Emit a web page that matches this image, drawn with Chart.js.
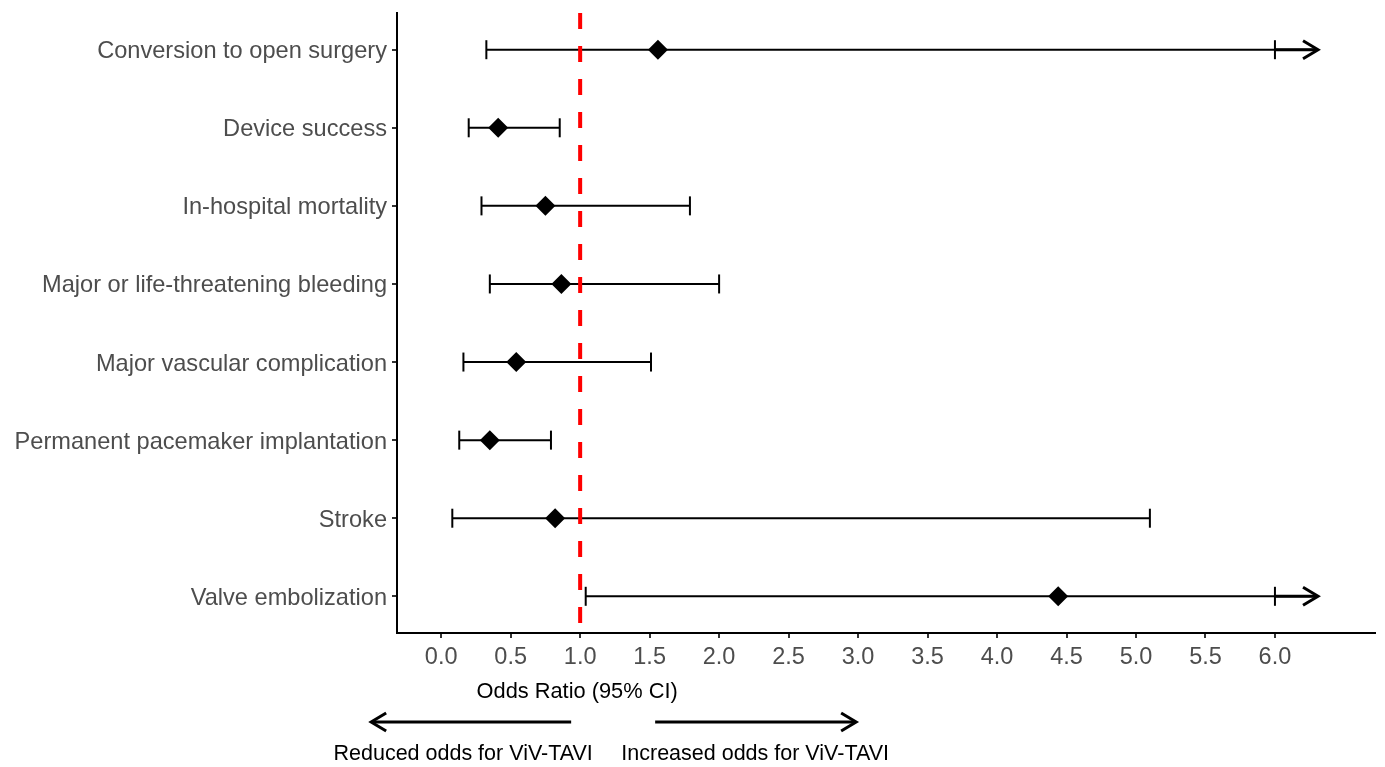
<!DOCTYPE html>
<html>
<head>
<meta charset="utf-8">
<script src="https://cdn.jsdelivr.net/npm/chart.js@4"></script>
<style>
  html, body { margin: 0; padding: 0; background: #fff; }
  #wrap { width: 1385px; height: 767px; }
</style>
</head>
<body>
<div id="wrap"><canvas id="forest"></canvas></div>
<script>
const outcomes = [
  'Conversion to open surgery',
  'Device success',
  'In-hospital mortality',
  'Major or life-threatening bleeding',
  'Major vascular complication',
  'Permanent pacemaker implantation',
  'Stroke',
  'Valve embolization'
];
const oddsRatio = [1.56, 0.41, 0.75, 0.865, 0.54, 0.35, 0.82, 4.44];
const ciLow = [0.325, 0.198, 0.29, 0.35, 0.16, 0.13, 0.08, 1.04];
const ciHigh = [6.31, 0.853, 1.79, 2.0, 1.51, 0.79, 5.10, 6.31];
const truncated = [true, false, false, false, false, false, false, true];
const axisCap = 6.0;
const xTicks = [0, 0.5, 1, 1.5, 2, 2.5, 3, 3.5, 4, 4.5, 5, 5.5, 6];
const refLine = 1.0;

const FONT = '"Liberation Sans", Arial, sans-serif';

const points = oddsRatio.map((v, i) => ({ x: v, y: i }));

function arrowHead(ctx, x, y, dir, len, half) {
  ctx.beginPath();
  ctx.moveTo(x - dir * len, y - half);
  ctx.lineTo(x, y);
  ctx.lineTo(x - dir * len, y + half);
  ctx.stroke();
}

const forestPlugin = {
  id: 'forest',
  beforeDatasetsDraw(chart) {
    const { ctx, scales: { x, y }, chartArea } = chart;
    ctx.save();
    ctx.strokeStyle = '#000';
    ctx.lineCap = 'butt';
    outcomes.forEach((name, i) => {
      const py = y.getPixelForValue(i);
      const x0 = x.getPixelForValue(ciLow[i]);
      const x1 = x.getPixelForValue(ciHigh[i]);
      ctx.lineWidth = 2;
      ctx.beginPath();
      ctx.moveTo(x0, py);
      ctx.lineTo(x1, py);
      ctx.stroke();
      // caps
      const caps = truncated[i] ? [x0, x.getPixelForValue(axisCap)] : [x0, x1];
      caps.forEach(cx => {
        ctx.beginPath();
        ctx.moveTo(cx, py - 9.5);
        ctx.lineTo(cx, py + 9.5);
        ctx.stroke();
      });
      if (truncated[i]) {
        ctx.lineWidth = 3;
        ctx.beginPath();
        ctx.moveTo(x.getPixelForValue(axisCap), py);
        ctx.lineTo(x1 - 2, py);
        ctx.stroke();
        ctx.lineJoin = 'miter';
        arrowHead(ctx, x1, py, 1, 15, 9);
      }
    });
    // reference line
    const rx = x.getPixelForValue(refLine);
    ctx.strokeStyle = '#ff0000';
    ctx.lineWidth = 4;
    ctx.setLineDash([16, 17]);
    ctx.beginPath();
    ctx.moveTo(rx, chartArea.top);
    ctx.lineTo(rx, chartArea.bottom);
    ctx.stroke();
    ctx.restore();
  },
  afterDraw(chart) {
    const { ctx, scales: { x } } = chart;
    const cx = x.getPixelForValue(refLine);
    ctx.save();
    ctx.fillStyle = '#000';
    ctx.textAlign = 'center';
    ctx.textBaseline = 'middle';
    ctx.font = '21.8px ' + FONT;
    ctx.fillText('Odds Ratio (95% CI)', cx - 3, 692);
    // direction arrows
    ctx.strokeStyle = '#000';
    ctx.lineWidth = 3;
    ctx.lineJoin = 'miter';
    const ay = 722;
    ctx.beginPath();
    ctx.moveTo(cx - 9, ay);
    ctx.lineTo(cx - 208, ay);
    ctx.stroke();
    arrowHead(ctx, cx - 209, ay, -1, 15, 9);
    ctx.beginPath();
    ctx.moveTo(cx + 75, ay);
    ctx.lineTo(cx + 275, ay);
    ctx.stroke();
    arrowHead(ctx, cx + 276, ay, 1, 15, 9);
    ctx.font = '21.5px ' + FONT;
    ctx.fillText('Reduced odds for ViV-TAVI', cx - 117, 754);
    ctx.fillText('Increased odds for ViV-TAVI', cx + 175, 754);
    ctx.restore();
  }
};

new Chart(document.getElementById('forest'), {
  type: 'scatter',
  data: {
    datasets: [{
      label: 'Odds ratio',
      data: points,
      pointStyle: 'rectRot',
      pointRadius: 10,
      pointHoverRadius: 10,
      backgroundColor: '#000',
      borderColor: '#000',
      borderWidth: 0
    }]
  },
  options: {
    responsive: true,
    maintainAspectRatio: false,
    animation: false,
    layout: { padding: { top: 13, right: 9, left: 0, bottom: 0 } },
    plugins: {
      legend: { display: false },
      tooltip: { enabled: false }
    },
    scales: {
      x: {
        type: 'linear',
        min: -0.318,
        max: 6.72,
        afterBuildTicks: s => { s.ticks = xTicks.map(v => ({ value: v })); },
        afterFit: s => { s.height = 134; s.paddingLeft = 0; s.paddingRight = 0; },
        grid: { drawOnChartArea: false, drawTicks: true, tickLength: 5, color: '#333', lineWidth: 2 },
        border: { display: true, color: '#000', width: 2 },
        ticks: {
          color: '#4d4d4d',
          padding: 5,
          font: { family: FONT, size: 23.5 },
          callback: v => v.toFixed(1)
        }
      },
      y: {
        type: 'linear',
        reverse: true,
        min: -0.47,
        max: 7.47,
        afterBuildTicks: s => { s.ticks = outcomes.map((n, i) => ({ value: i })); },
        afterFit: s => { s.width = 397; s.paddingTop = 0; s.paddingBottom = 0; },
        grid: { drawOnChartArea: false, drawTicks: true, tickLength: 5, color: '#333', lineWidth: 2 },
        border: { display: true, color: '#000', width: 2 },
        ticks: {
          color: '#4d4d4d',
          padding: 5,
          labelOffset: 2,
          font: { family: FONT, size: 23.6 },
          callback: v => outcomes[v]
        }
      }
    }
  },
  plugins: [forestPlugin]
});
</script>
</body>
</html>
